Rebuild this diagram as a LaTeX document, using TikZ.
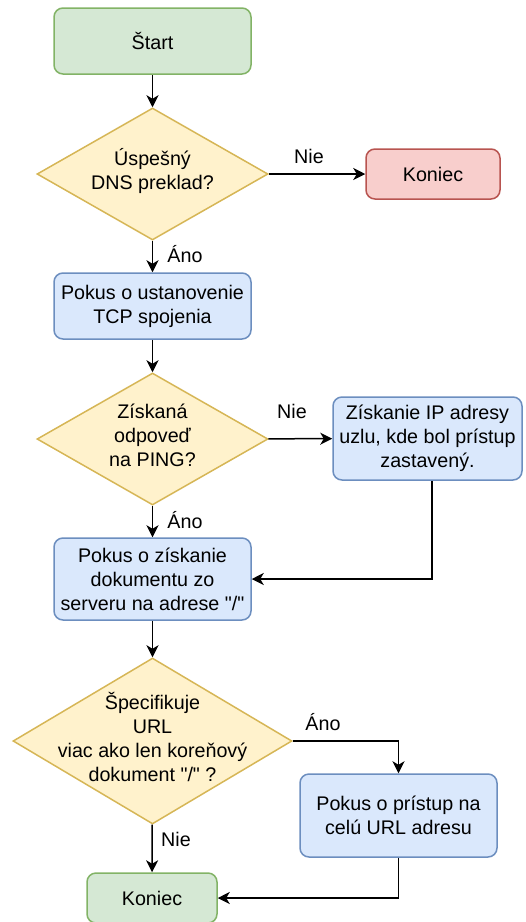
\documentclass[tikz,border=0pt]{standalone}
\usepackage{fontspec}
% plain family: no TeX ligature mapping, so " stays a straight quote
\newfontfamily\lsans{Liberation Sans}
\usetikzlibrary{shapes.geometric,arrows.meta,calc}

\definecolor{gfill}{HTML}{D5E8D4}\definecolor{gline}{HTML}{82B366}
\definecolor{yfill}{HTML}{FFF2CC}\definecolor{yline}{HTML}{D6B656}
\definecolor{rfill}{HTML}{F8CECC}\definecolor{rline}{HTML}{B85450}
\definecolor{bfill}{HTML}{DAE8FC}\definecolor{bline}{HTML}{6C8EBF}

\tikzset{
  txt/.style={font=\lsans\fontsize{19.7}{24}\selectfont, align=center},
  boxbase/.style={txt, rectangle, rounded corners=9pt, line width=1.5pt, inner sep=2pt},
  greenbox/.style={boxbase, fill=gfill, draw=gline},
  redbox/.style={boxbase, fill=rfill, draw=rline},
  bluebox/.style={boxbase, fill=bfill, draw=bline},
  decision/.style={diamond, fill=yfill, draw=yline, line width=1.5pt, inner sep=0pt},
  flow/.style={line width=1.5pt, -{Stealth[length=12pt,width=12pt,inset=3.5pt]}},
  lbl/.style={txt, inner sep=0pt}
}

\begin{document}
\begin{tikzpicture}[x=1pt,y=-1pt]
\useasboundingbox (0,0) rectangle (526,922);

% process boxes and terminals
\node[greenbox, minimum width=197pt, minimum height=66pt] (start) at (152.5,41) {Štart};
\node[redbox, minimum width=134pt, minimum height=50pt] (end1) at (433,174) {Koniec};
\node[bluebox, minimum width=197pt, minimum height=66pt] (tcp) at (152.5,306) {Pokus o ustanovenie\\TCP spojenia};
\node[bluebox, minimum width=189pt, minimum height=83pt] (ip) at (427.5,438.5) {Získanie IP adresy\\uzlu, kde bol prístup\\zastavený.};
\node[bluebox, minimum width=197pt, minimum height=82pt] (doc) at (152.5,579) {Pokus o získanie\\dokumentu zo\\serveru na adrese "/"};
\node[bluebox, minimum width=197pt, minimum height=83pt] (full) at (398.5,815.5) {Pokus o prístup na\\celú URL adresu};
\node[greenbox, minimum width=130pt, minimum height=50pt] (end2) at (152,898) {Koniec};

% decisions (shape and its wording)
\node[decision, minimum width=231pt, minimum height=132pt] (dns) at (152.5,174) {};
\node[txt] (dnst) at ([yshift=3pt]dns.center) {Úspešný\\DNS preklad?};
\node[decision, minimum width=231pt, minimum height=132pt] (ping) at (152.5,439) {};
\node[txt] (pingt) at ([yshift=4pt]ping.center) {Získaná\\odpoveď\\na PING?};
\node[decision, minimum width=279pt, minimum height=166pt] (url) at (152.5,741) {};
\node[txt] (urlt) at ([yshift=4pt]url.center) {Špecifikuje\\URL\\viac ako len koreňový\\dokument "/" ?};

% connectors
\draw[flow] (start) -- (dns);
\draw[flow] (dns) -- (end1);
\draw[flow] (dns) -- (tcp);
\draw[flow] (tcp) -- (ping);
\draw[flow] (ping) -- (ip);
\draw[flow] (ping) -- (doc);
\coordinate (ipout) at ([xshift=4.5pt]ip.south);
\draw[flow] (ipout) |- (doc.east);
\draw[flow] (doc) -- (url);
\draw[flow] (url.east) -| (full.north);
\draw[flow] (url) -- (end2);
\draw[flow] (full.south) |- (end2.east);

% branch labels
\node[lbl] (n1) at (309,156) {Nie};
\node[lbl] (a1) at (185,254) {Áno};
\node[lbl] (n2) at (292,411) {Nie};
\node[lbl] (a2) at (185,520) {Áno};
\node[lbl] (a3) at (323,722) {Áno};
\node[lbl] (n3) at (176,839) {Nie};
\end{tikzpicture}
\end{document}
